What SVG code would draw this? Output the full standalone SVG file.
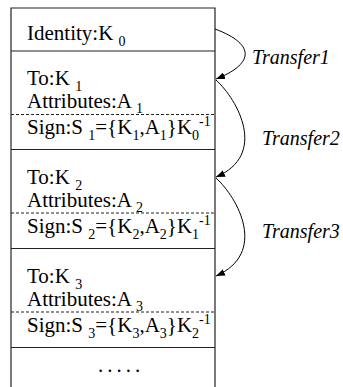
<svg xmlns="http://www.w3.org/2000/svg" width="343" height="387" viewBox="0 0 343 387">
  <defs>
    <style>
      text { font-family: 'Liberation Serif', 'DejaVu Serif', serif; font-size: 21px; fill: #000; }
      .sub { font-size: 14px; }
      .lbl { font-style: italic; font-size: 20px; }
      .frame { fill: none; stroke: #222; stroke-width: 1.2; }
      .sep { stroke: #222; stroke-width: 1.2; }
      .dash { stroke: #222; stroke-width: 1; stroke-dasharray: 3 2; }
      .link { fill: none; stroke: #000; stroke-width: 1; }
    </style>
    <marker id="arrow" viewBox="0 0 9 7" refX="9" refY="3.5" markerWidth="9" markerHeight="7" markerUnits="userSpaceOnUse" orient="auto">
      <path d="M0,0 L9,3.5 L0,7 z" fill="#000"/>
    </marker>
  </defs>

  <!-- certificate chain frame -->
  <g id="frame">
    <path class="frame" d="M11,387 V8 H215 V387"/>
    <line class="sep" x1="11" y1="51" x2="215" y2="51"/>
    <line class="sep" x1="11" y1="149.5" x2="215" y2="149.5"/>
    <line class="sep" x1="11" y1="248.5" x2="215" y2="248.5"/>
    <line class="sep" x1="11" y1="347.5" x2="215" y2="347.5"/>
  </g>

  <!-- root identity -->
  <g id="identity" font-family="Liberation Serif, serif">
    <text x="27" y="40">Identity:K <tspan class="sub" dy="6">0</tspan></text>
  </g>

  <!-- delegation block 1 -->
  <g id="block1" transform="translate(0,51)">
    <text x="27" y="34">To:K <tspan class="sub" dy="6">1</tspan></text>
    <text x="27" y="57">Attributes:A <tspan class="sub" dy="5">1</tspan></text>
    <line class="dash" x1="11" y1="63.5" x2="215" y2="63.5"/>
    <text x="27" y="83">Sign:S <tspan class="sub" dy="6">1</tspan><tspan dy="-6">={K</tspan><tspan class="sub" dy="6">1</tspan><tspan dy="-6">,A</tspan><tspan class="sub" dy="6">1</tspan><tspan dy="-6">}K</tspan><tspan class="sub" dy="6">0</tspan><tspan class="sub" dy="-14">-1</tspan></text>
  </g>

  <!-- delegation block 2 -->
  <g id="block2" transform="translate(0,149.5)">
    <text x="27" y="34">To:K <tspan class="sub" dy="6">2</tspan></text>
    <text x="27" y="57">Attributes:A <tspan class="sub" dy="5">2</tspan></text>
    <line class="dash" x1="11" y1="63.5" x2="215" y2="63.5"/>
    <text x="27" y="83">Sign:S <tspan class="sub" dy="6">2</tspan><tspan dy="-6">={K</tspan><tspan class="sub" dy="6">2</tspan><tspan dy="-6">,A</tspan><tspan class="sub" dy="6">2</tspan><tspan dy="-6">}K</tspan><tspan class="sub" dy="6">1</tspan><tspan class="sub" dy="-14">-1</tspan></text>
  </g>

  <!-- delegation block 3 -->
  <g id="block3" transform="translate(0,248.5)">
    <text x="27" y="34">To:K <tspan class="sub" dy="6">3</tspan></text>
    <text x="27" y="57">Attributes:A <tspan class="sub" dy="5">3</tspan></text>
    <line class="dash" x1="11" y1="63.5" x2="215" y2="63.5"/>
    <text x="27" y="83">Sign:S <tspan class="sub" dy="6">3</tspan><tspan dy="-6">={K</tspan><tspan class="sub" dy="6">3</tspan><tspan dy="-6">,A</tspan><tspan class="sub" dy="6">3</tspan><tspan dy="-6">}K</tspan><tspan class="sub" dy="6">2</tspan><tspan class="sub" dy="-14">-1</tspan></text>
  </g>

  <!-- continuation -->
  <g id="more">
    <text x="98" y="372" letter-spacing="4">.....</text>
  </g>

  <!-- transfer connectors -->
  <g id="connectors">
    <path class="link" d="M215,29 C258,45 252,65 216,79" marker-end="url(#arrow)"/>
    <path class="link" d="M216,80 C238,100 268,155 216,177" marker-end="url(#arrow)"/>
    <path class="link" d="M216,178 C238,198 268,253 216,276" marker-end="url(#arrow)"/>
    <text class="lbl" x="252" y="64">Transfer1</text>
    <text class="lbl" x="262" y="145">Transfer2</text>
    <text class="lbl" x="262" y="238">Transfer3</text>
  </g>
</svg>
